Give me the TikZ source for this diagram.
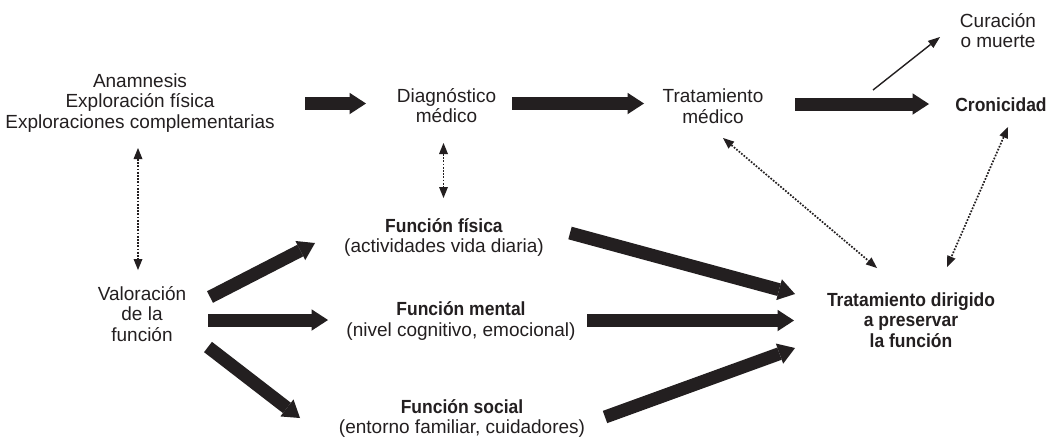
\documentclass[tikz,border=0pt]{standalone}
\usepackage{fontspec}
\setmainfont{Liberation Sans}[BoldFeatures={FakeStretch=0.92}]
\usetikzlibrary{arrows.meta,calc}
\definecolor{ink}{RGB}{35,31,32}
\begin{document}
\begin{tikzpicture}[x=1pt,y=-1pt,
  lbl/.style={anchor=base,align=center,inner sep=0pt,text=ink,font=\fontsize{19}{20.5}\selectfont},
  blbl/.style={lbl,font=\fontsize{19}{20.5}\selectfont\bfseries},
  bigarr/.style={draw=ink,line width=13pt,-{Triangle[length=16.5pt,width=21.5pt,line width=0pt]}},
  dotarr/.style={draw=ink,line width=1.7pt,dash pattern=on 1.7pt off 1.5pt,
    {Triangle[length=11pt,width=9pt,line width=0pt]}-{Triangle[length=11pt,width=9pt,line width=0pt]}},
  thinarr/.style={draw=ink,line width=1.4pt,-{Triangle[length=12pt,width=9pt,line width=0pt]}}]
\fill[white] (0,0) rectangle (1046,440);
\useasboundingbox (0,0) rectangle (1046,440);

% nodes (base anchor = baseline of the last line)
\node[lbl]  (anam)   at (140,128.3)  {Anamnesis\\Exploración física\\Exploraciones complementarias};
\node[lbl]  (diag)   at (446.5,122.8) {Diagnóstico\\médico};
\node[lbl]  (trat)   at (713,123.2) {Tratamiento\\médico};
\node[lbl]  (cura)   at (998,47.8)  {Curación\\o muerte};
\node[blbl] (cron)   at (1001,111.7) {Cronicidad};
\node[lbl]  (valo)   at (142,341)   {Valoración\\de la\\función};
\node[lbl]  (fisica) at (444,252.5) {\textbf{Función física}\\(actividades vida diaria)};
\node[lbl]  (mental) at (461,336) {\textbf{Función mental}\\(nivel cognitivo, emocional)};
\node[lbl]  (social) at (462,433.8) {\textbf{Función social}\\(entorno familiar, cuidadores)};
\node[blbl] (tdir)   at (911,347)   {Tratamiento dirigido\\a preservar\\la función};

% thick arrows, top row
\draw[bigarr] ($(anam.base)+(165,-24.8)$) -- ($(diag.base)+(-80.5,-19.3)$);
\draw[bigarr] ($(diag.base)+(65.5,-19.3)$) -- ($(trat.base)+(-69,-19.7)$);
\draw[bigarr] ($(trat.base)+(82,-19.2)$) -- ($(cron.base)+(-72,-7.7)$);
\draw[thinarr] ($(trat.base)+(160,-33.2)$) -- ($(cura.base)+(-58,-10.8)$);

% dotted double arrows
\draw[dotarr] ($(anam.base)+(-2,19.7)$) -- ($(valo.base)+(-4,-71)$);
\draw[dotarr] ($(diag.base)+(-3,20.2)$) -- ($(fisica.base)+(-0.5,-54.5)$);
\draw[dotarr] ($(trat.base)+(10,14.8)$) -- ($(tdir.base)+(-34,-79)$);
\draw[dotarr] ($(cron.base)+(7,15.3)$) -- ($(tdir.base)+(36,-80)$);

% thick arrows from Valoración
\draw[bigarr] ($(valo.base)+(68,-44)$) -- ($(fisica.base)+(-129,-9.5)$);
\draw[bigarr] ($(valo.base)+(66,-21)$) -- ($(mental.base)+(-133,-16)$);
\draw[bigarr] ($(valo.base)+(66,6)$) -- ($(social.base)+(-162,-15.8)$);

% thick arrows to Tratamiento dirigido
\draw[bigarr] ($(fisica.base)+(126,-19.5)$) -- ($(tdir.base)+(-116,-53)$);
\draw[bigarr] ($(mental.base)+(126,-15.5)$) -- ($(tdir.base)+(-117,-26.5)$);
\draw[bigarr] ($(social.base)+(143,-16.8)$) -- ($(tdir.base)+(-116,1)$);
\end{tikzpicture}
\end{document}
